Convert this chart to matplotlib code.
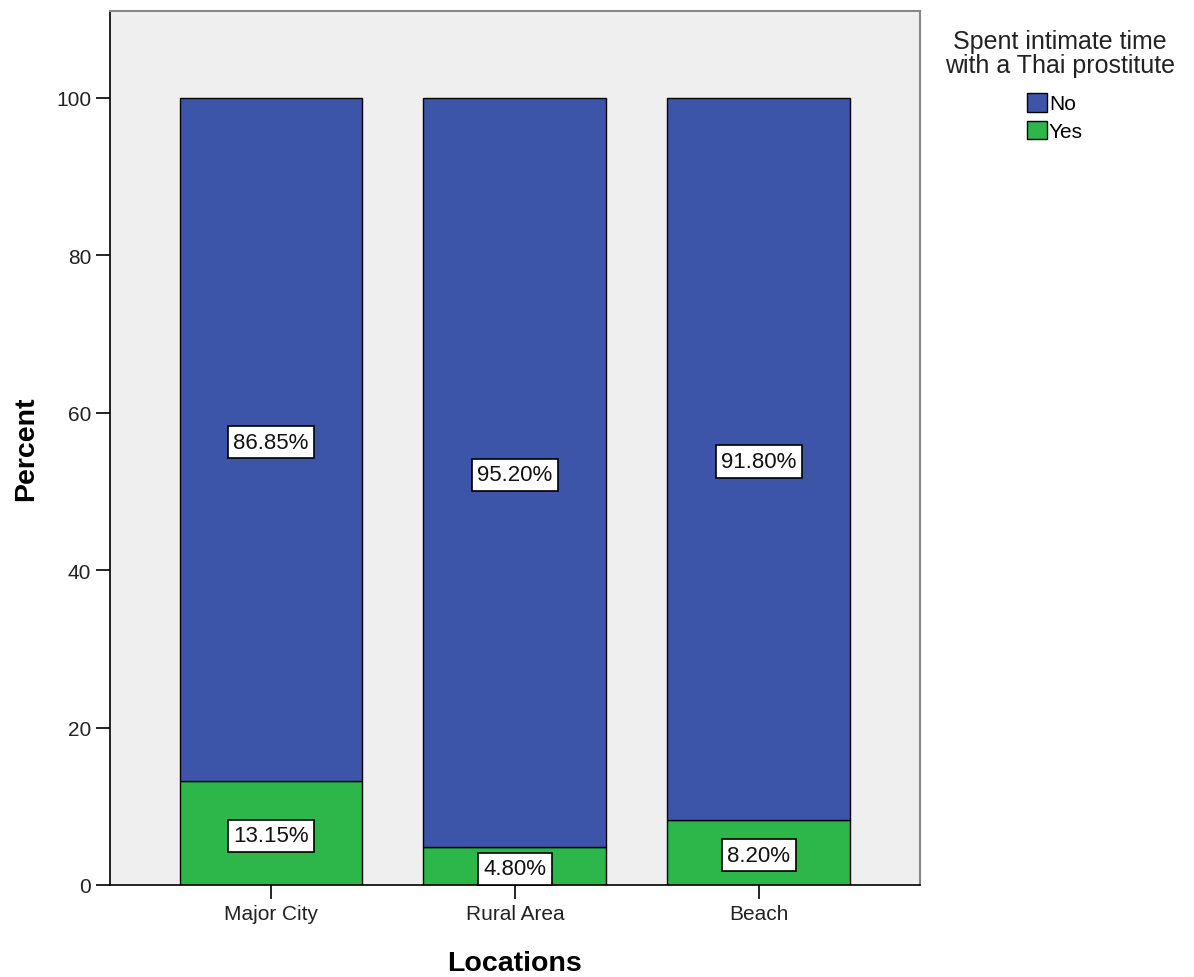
import matplotlib
matplotlib.use("Agg")
import matplotlib.pyplot as plt
import matplotlib.patches as ptch
import numpy as np

plt.rcParams['font.family'] = ['Liberation Sans', 'DejaVu Sans']

locations = ['Major City', 'Rural Area', 'Beach']
yes_pct = [13.15, 4.80, 8.20]
no_pct = [86.85, 95.20, 91.80]
series = ['No', 'Yes']

blue = '#3d55a8'
green = '#2db64a'

fig = plt.figure(figsize=(11.94, 9.78), dpi=100)
ax = fig.add_axes([0.0921, 0.0941, 0.6784, 0.8936])
ax.set_facecolor('#efefef')

x = np.arange(len(locations))
ax.bar(x, yes_pct, width=0.75, color=green, edgecolor='black', linewidth=1, zorder=2)
ax.bar(x, no_pct, bottom=yes_pct, width=0.75, color=blue, edgecolor='black', linewidth=1, zorder=2)

# percent labels in the middle of each segment
for i in range(len(locations)):
    for val, mid in [(yes_pct[i], yes_pct[i] / 2), (no_pct[i], yes_pct[i] + no_pct[i] / 2)]:
        ax.text(x[i], mid, '%.2f%%' % val, ha='center', va='center_baseline', fontsize=16,
                color='#111111', zorder=4,
                bbox=dict(boxstyle='square,pad=0.25', facecolor='white', edgecolor='black', linewidth=1.2))

ax.set_xlim(-0.66, 2.66)
ax.set_ylim(0, 111)
ax.set_yticks([0, 20, 40, 60, 80, 100])
ax.set_xticks(x)
ax.set_xticklabels(locations)
ax.tick_params(axis='both', labelsize=15, colors='black', labelcolor='#222222', length=10, width=1.2)

for s in ['left', 'bottom']:
    ax.spines[s].set_color('black')
    ax.spines[s].set_linewidth(1.2)
for s in ['top', 'right']:
    ax.spines[s].set_color('#888888')
    ax.spines[s].set_linewidth(1.5)

ax.set_ylabel('Percent', fontsize=20.5, fontweight='bold', labelpad=12)
ax.set_xlabel('Locations', fontsize=20.5, fontweight='bold', labelpad=20)

# legend
fig.text(1060 / 1194, 1 - 54 / 978, 'Spent intimate time\nwith a Thai prostitute',
         ha='center', va='center', fontsize=18, color='#222222', linespacing=0.95)
handles = [ptch.Patch(facecolor=blue, edgecolor='black', label=series[0]),
           ptch.Patch(facecolor=green, edgecolor='black', label=series[1])]
fig.legend(handles=handles, loc='upper left', bbox_to_anchor=(1027 / 1194, 1 - 94 / 978),
           frameon=False, fontsize=15, handlelength=0.95, handleheight=1.0,
           handletextpad=0.1, labelspacing=0.35, borderpad=0, borderaxespad=0)

plt.savefig('out.png', dpi=100)
